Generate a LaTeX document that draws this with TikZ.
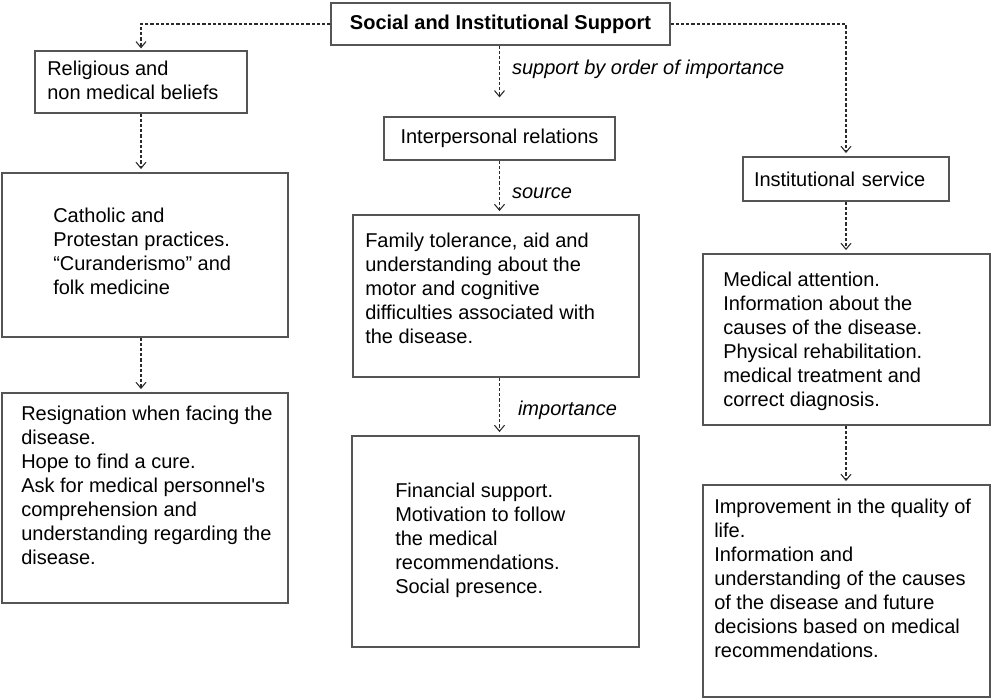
\documentclass[tikz,border=0pt]{standalone}
\usepackage{fontspec}
\setmainfont{Liberation Sans}
\usetikzlibrary{arrows.meta, positioning, calc}

\definecolor{boxgray}{HTML}{555555}
\definecolor{dashgray}{HTML}{2A2A2A}

\begin{document}
\begin{tikzpicture}[x=0.75pt,y=-0.75pt,
	box/.style={draw=boxgray,line width=0.9pt,inner sep=0pt,font=\fontsize{15pt}{18pt}\selectfont},
	txt/.style={anchor=north west,inner sep=0pt,align=left,font=\fontsize{15pt}{18pt}\selectfont},
	flow/.style={draw=dashgray,line width=0.8pt,dash pattern=on 2.4pt off 1.5pt,-{Straight Barb[length=4.5pt,width=7.5pt]},shorten >=2.5pt},
	lbl/.style={anchor=west,inner sep=0pt,font=\fontsize{15pt}{18pt}\selectfont\itshape}]

	\useasboundingbox (0,0) rectangle (993,699);

	% boxes
	\node[box,minimum width=254.25pt,minimum height=31.5pt,font={\fontsize{15pt}{18pt}\selectfont\bfseries}] (top) at (500.5,24) {Social and Institutional Support};
	\node[box,minimum width=159pt,minimum height=46.5pt] (rel) at (141,82) {};
	\node[box,minimum width=173.25pt,minimum height=32.25pt] (inter) at (499.5,138.5) {Interpersonal relations};
	\node[box,minimum height=33pt,text width=138pt,inner xsep=8.25pt,align=left] (inst) at (846,179) {Institutional service};
	\node[box,minimum width=214.5pt,minimum height=123pt] (cat) at (145,255) {};
	\node[box,minimum width=214.5pt,minimum height=157.5pt] (resig) at (145,498) {};
	\node[box,minimum width=214.5pt,minimum height=121.5pt] (fam) at (496,296) {};
	\node[box,minimum width=215.25pt,minimum height=158.25pt] (fin) at (495.5,541.5) {};
	\node[box,minimum width=215.25pt,minimum height=128.25pt] (med) at (846.5,339.5) {};
	\node[box,minimum width=215.25pt,minimum height=159pt] (imp) at (846.5,591) {};

	% texts in the boxes
	\node[txt] (rel-t) at (47,61) {Religious and\\non medical beliefs};
	\node[txt] (cat-t) at (53,208) {Catholic and\\Protestan practices.\\``Curanderismo'' and\\folk medicine};
	\node[txt] (resig-t) at (21,406) {Resignation when facing the\\disease.\\Hope to find a cure.\\Ask for medical personnel\textquotesingle s\\comprehension and\\understanding regarding the\\disease.};
	\node[txt] (fam-t) at (365,233) {Family tolerance, aid and\\understanding about the\\motor and cognitive\\difficulties associated with\\the disease.};
	\node[txt] (fin-t) at (395,483) {Financial support.\\Motivation to follow\\the medical\\recommendations.\\Social presence.};
	\node[txt] (med-t) at (723,272) {Medical attention.\\Information about the\\causes of the disease.\\Physical rehabilitation.\\medical treatment and\\correct diagnosis.};
	\node[txt] (imp-t) at (714,499) {Improvement in the quality of\\life.\\Information and\\understanding of the causes\\of the disease and future\\decisions based on medical\\recommendations.};

	% connectors
	\draw[flow,shorten >=1.5pt] (top.west) -| (rel.north);
	\draw[flow] (top.east) -| (inst.north);
	\draw[flow,shorten >=14.25pt] (inter.north |- top.south) -- node[lbl,pos=0.33,xshift=9pt] (order) {support by order of importance} (inter.north);
	\draw[flow] (inter.south) -- node[lbl,pos=0.6,xshift=9pt] (source) {source} (inter.south |- fam.north);
	\draw[flow] (inter.south |- fam.south) -- node[lbl,pos=0.57,xshift=13.5pt] (import) {importance} (inter.south |- fin.north);
	\draw[flow] (rel.south) -- (rel.south |- cat.north);
	\draw[flow] (rel.south |- cat.south) -- (rel.south |- resig.north);
	\draw[flow] (inst.south) -- (inst.south |- med.north);
	\draw[flow] (inst.south |- med.south) -- (inst.south |- imp.north);

\end{tikzpicture}
\end{document}
